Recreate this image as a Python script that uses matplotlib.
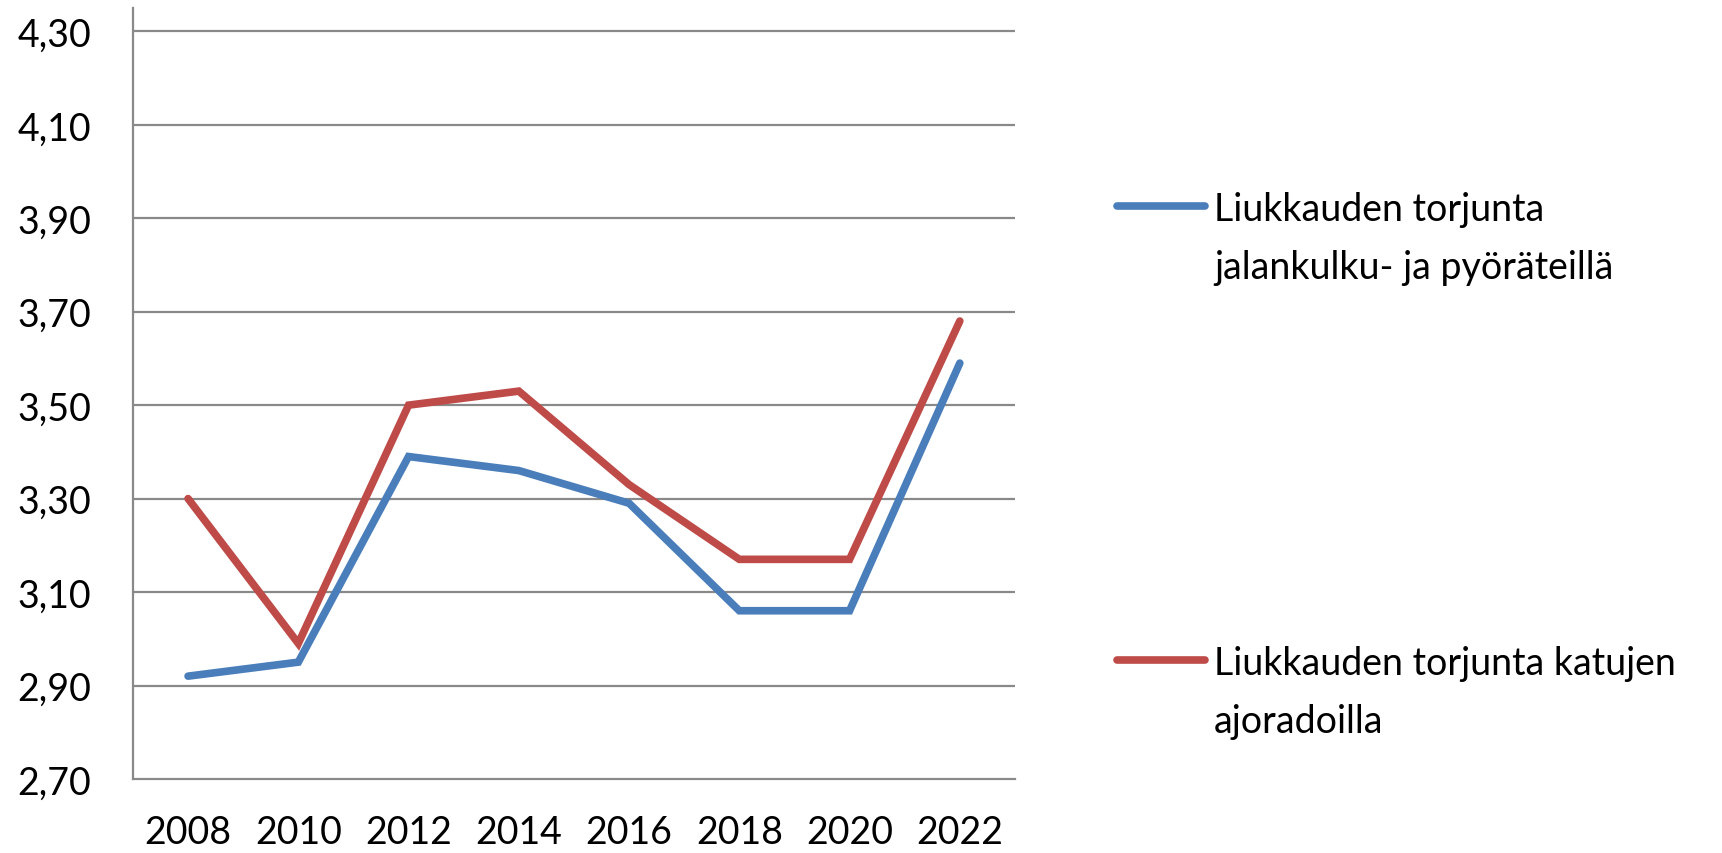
import matplotlib.pyplot as plt
from matplotlib.lines import Line2D

plt.rcParams['font.family'] = ['Lato', 'DejaVu Sans']

years = ['2008', '2010', '2012', '2014', '2016', '2018', '2020', '2022']
kevyt = [2.92, 2.95, 3.39, 3.36, 3.29, 3.06, 3.06, 3.59]
ajorata = [3.30, 2.99, 3.50, 3.53, 3.33, 3.17, 3.17, 3.68]
labels = ['Liukkauden torjunta\njalankulku- ja pyöräteillä',
          'Liukkauden torjunta katujen\najoradoilla']
colors = ['#4A7EBB', '#BE4B48']
yticks = [2.70, 2.90, 3.10, 3.30, 3.50, 3.70, 3.90, 4.10, 4.30]

fig = plt.figure(figsize=(17.22, 8.54), dpi=100)
ax = fig.add_axes([0.0772, 0.0867, 0.5122, 0.9028])

x = range(len(years))
ax.plot(x, kevyt, color=colors[0], lw=5.5, solid_capstyle='round', solid_joinstyle='miter', zorder=3)
ax.plot(x, ajorata, color=colors[1], lw=5.5, solid_capstyle='round', solid_joinstyle='miter', zorder=3)

ax.set_xlim(-0.5, len(years) - 0.5)
ax.set_ylim(2.70, 4.35)
ax.set_xticks(list(x))
ax.set_xticklabels(years)
ax.set_yticks(yticks)
ax.set_yticklabels([f'{v:.2f}'.replace('.', ',') for v in yticks])
ax.tick_params(length=0, labelsize=27)
ax.tick_params(axis='y', pad=30)
ax.tick_params(axis='x', pad=25)

for v in yticks[1:]:
    ax.axhline(v, color='#898989', lw=1.6, zorder=1)
for s in ['top', 'right']:
    ax.spines[s].set_visible(False)
for s in ['left', 'bottom']:
    ax.spines[s].set_color('#898989')
    ax.spines[s].set_linewidth(1.6)

# legend drawn by hand, like the Excel layout
leg_y = [1 - 207 / 854, 1 - 661 / 854]
step = 58 / 854
for lab, col, yy in zip(labels, colors, leg_y):
    fig.add_artist(Line2D([1117 / 1722, 1205 / 1722], [yy, yy], color=col, lw=5.5,
                          solid_capstyle='round', transform=fig.transFigure))
    for i, part in enumerate(lab.split('\n')):
        fig.text(1214 / 1722, yy - i * step, part, fontsize=27, va='center_baseline', ha='left')

fig.savefig('out.png', dpi=100)
